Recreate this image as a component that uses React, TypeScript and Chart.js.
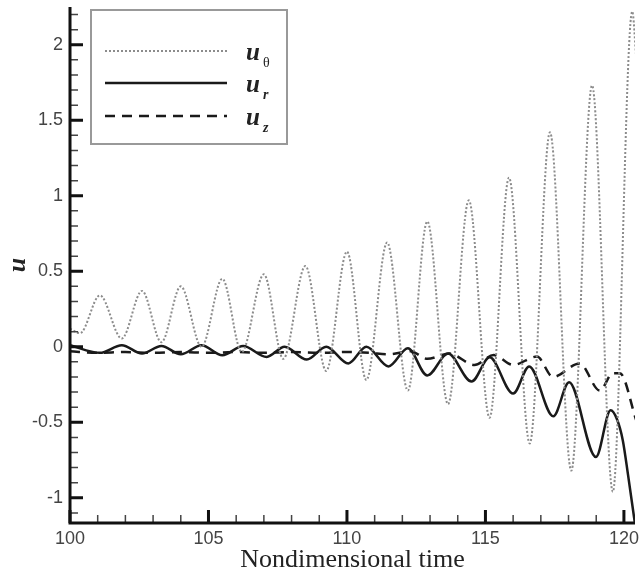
import React, { useEffect, useRef } from "react";
import { Chart, registerables } from "chart.js";

Chart.register(...registerables);

// u_theta (dotted grey)
const thetaT = [100.0, 100.36, 101.08, 101.87, 102.6, 103.3, 104.0, 104.75, 105.5, 106.2, 107.0, 107.7, 108.5, 109.25, 110.0, 110.7, 111.45, 112.2, 112.9, 113.65, 114.4, 115.15, 115.85, 116.6, 117.33, 118.1, 118.85, 119.6, 120.3, 120.45];
const thetaU = [0.12, 0.09, 0.34, 0.055, 0.37, 0.03, 0.4, 0.0, 0.45, -0.035, 0.48, -0.08, 0.535, -0.16, 0.63, -0.22, 0.69, -0.29, 0.83, -0.38, 0.97, -0.47, 1.12, -0.64, 1.42, -0.82, 1.73, -0.96, 2.22, 1.9];

// u_r (solid black)
const rT = [100.0, 101.08, 101.87, 102.6, 103.3, 104.0, 104.75, 105.5, 106.25, 107.1, 107.75, 108.55, 109.25, 110.05, 110.7, 111.5, 112.2, 112.9, 113.65, 114.5, 115.15, 116.0, 116.58, 117.45, 118.02, 118.99, 119.52, 119.75, 119.96, 120.15, 120.42];
const rU = [0.01, -0.04, 0.01, -0.045, 0.005, -0.05, 0.01, -0.056, 0.005, -0.067, 0.0, -0.085, 0.0, -0.11, 0.0, -0.13, -0.01, -0.19, -0.045, -0.23, -0.07, -0.31, -0.13, -0.46, -0.235, -0.73, -0.42, -0.48, -0.62, -0.85, -1.2];

// u_z (dashed black)
const zT = [100.0, 101.0, 102.0, 103.0, 104.0, 105.0, 106.0, 107.0, 108.0, 109.0, 110.0, 110.8, 111.5, 112.3, 112.9, 113.7, 114.6, 115.3, 116.0, 116.86, 117.44, 118.4, 119.13, 119.6, 119.85, 120.45];
const zU = [-0.03, -0.04, -0.035, -0.04, -0.035, -0.04, -0.035, -0.04, -0.035, -0.04, -0.035, -0.04, -0.05, -0.03, -0.08, -0.045, -0.12, -0.055, -0.12, -0.065, -0.2, -0.11, -0.29, -0.175, -0.175, -0.49];

const xTicks = [100, 105, 110, 115, 120];
const yTicks = [-1, -0.5, 0, 0.5, 1, 1.5, 2];
const xLabel = "Nondimensional time";
const yLabel = "u";
const legendBase = "u";
const legendSubs = ["θ", "r", "z"];

const X_MIN = 100;
const X_MAX = 120.4;
const Y_MIN = -1.167;
const Y_MAX = 2.25;

const toXY = (t: number[], u: number[]) => t.map((x, i) => ({ x, y: u[i] }));

const framePlugin = {
  id: "frame",
  afterDatasetsDraw(chart: any) {
    const { ctx, chartArea, scales } = chart;
    const xs = scales.x;
    const ys = scales.y;
    const { left, right, top, bottom } = chartArea;
    ctx.save();
    // minor ticks
    ctx.strokeStyle = "#444";
    ctx.lineWidth = 1.5;
    ctx.beginPath();
    for (let v = Math.ceil(Y_MIN * 10) / 10; v <= Y_MAX + 1e-9; v += 0.1) {
      const r = Math.round(v * 10) / 10;
      if (Math.abs(r * 2 - Math.round(r * 2)) < 1e-6) continue;
      const py = ys.getPixelForValue(r);
      ctx.moveTo(left, py);
      ctx.lineTo(left + 8, py);
    }
    for (let v = 101; v <= X_MAX; v += 1) {
      if (v % 5 === 0) continue;
      const px = xs.getPixelForValue(v);
      ctx.moveTo(px, bottom);
      ctx.lineTo(px, bottom - 8);
    }
    ctx.stroke();
    // major ticks
    ctx.strokeStyle = "#111";
    ctx.lineWidth = 3;
    ctx.beginPath();
    yTicks.forEach((v) => {
      const py = ys.getPixelForValue(v);
      ctx.moveTo(left, py);
      ctx.lineTo(left + 13, py);
    });
    xTicks.forEach((v) => {
      const px = xs.getPixelForValue(v);
      ctx.moveTo(px, bottom);
      ctx.lineTo(px, bottom - 13);
    });
    ctx.stroke();
    // axes
    ctx.lineWidth = 3;
    ctx.beginPath();
    ctx.moveTo(left, top);
    ctx.lineTo(left, bottom);
    ctx.lineTo(right, bottom);
    ctx.stroke();

    // legend
    const bx = 91, by = 10, bw = 196, bh = 134;
    ctx.fillStyle = "#fff";
    ctx.fillRect(bx, by, bw, bh);
    ctx.strokeStyle = "#999";
    ctx.lineWidth = 2;
    ctx.strokeRect(bx, by, bw, bh);
    const rows = [51, 83, 116];
    const ds = chart.data.datasets;
    rows.forEach((ry, i) => {
      const d = ds[i];
      ctx.strokeStyle = d.borderColor;
      ctx.lineWidth = d.borderWidth;
      ctx.setLineDash(d.borderDash || []);
      ctx.beginPath();
      ctx.moveTo(105, ry);
      ctx.lineTo(227, ry);
      ctx.stroke();
      ctx.setLineDash([]);
      ctx.fillStyle = "#222";
      ctx.textAlign = "left";
      ctx.textBaseline = "alphabetic";
      ctx.font = "italic bold 25px 'Liberation Serif'";
      ctx.fillText(legendBase, 246, ry + 9);
      ctx.font = (i === 0 ? "" : "italic bold ") + "14px 'Liberation Serif'";
      ctx.fillText(legendSubs[i], 263, ry + 16);
    });
    ctx.restore();
  },
};

export default function App() {
  const ref = useRef<HTMLCanvasElement | null>(null);
  useEffect(() => {
    if (!ref.current) return;
    const chart = new Chart(ref.current, {
      type: "line",
      data: {
        datasets: [
          {
            label: "u_θ",
            data: toXY(thetaT, thetaU),
            borderColor: "#8c8c8c",
            borderWidth: 2,
            borderDash: [2, 2],
            pointRadius: 0,
            cubicInterpolationMode: "monotone",
          },
          {
            label: "u_r",
            data: toXY(rT, rU),
            borderColor: "#1a1a1a",
            borderWidth: 2.5,
            pointRadius: 0,
            cubicInterpolationMode: "monotone",
          },
          {
            label: "u_z",
            data: toXY(zT, zU),
            borderColor: "#1a1a1a",
            borderWidth: 2.5,
            borderDash: [10, 7],
            pointRadius: 0,
            cubicInterpolationMode: "monotone",
          },
        ],
      },
      options: {
        animation: false,
        responsive: false,
        devicePixelRatio: 1,
        layout: { padding: { left: 0, right: 7, top: 7, bottom: 0 } },
        plugins: { legend: { display: false }, tooltip: { enabled: false } },
        scales: {
          x: {
            type: "linear",
            min: X_MIN,
            max: X_MAX,
            grid: { display: false, drawTicks: false },
            border: { display: false },
            afterBuildTicks: (s: any) => {
              s.ticks = xTicks.map((v) => ({ value: v }));
            },
            afterFit: (s: any) => {
              s.height = 56;
              s.paddingLeft = 0;
              s.paddingRight = 0;
            },
            ticks: {
              autoSkip: false,
              maxRotation: 0,
              padding: 5,
              color: "#444",
              font: { family: "'Liberation Sans'", size: 18 },
              callback: (v: any) => String(v),
            },
            title: {
              display: true,
              text: xLabel,
              color: "#222",
              font: { family: "'Liberation Serif'", size: 26, weight: "normal" },
              padding: { top: 0, bottom: 3 },
            },
          },
          y: {
            type: "linear",
            min: Y_MIN,
            max: Y_MAX,
            grid: { display: false, drawTicks: false },
            border: { display: false },
            afterBuildTicks: (s: any) => {
              s.ticks = yTicks.map((v) => ({ value: v }));
            },
            afterFit: (s: any) => {
              s.width = 70;
              s.paddingTop = 0;
              s.paddingBottom = 0;
            },
            ticks: {
              autoSkip: false,
              padding: 7,
              color: "#444",
              font: { family: "'Liberation Sans'", size: 18 },
              callback: (v: any) => String(v),
            },
            title: {
              display: true,
              text: yLabel,
              color: "#222",
              font: { family: "'Liberation Serif'", size: 26, weight: "bold", style: "italic" },
              padding: { top: 3, bottom: 0 },
            },
          },
        },
      },
      plugins: [framePlugin],
    });
    return () => chart.destroy();
  }, []);
  return (
    <div style={{ position: "absolute", left: 0, top: 0, width: 642, height: 579, background: "#fff" }}>
      <canvas ref={ref} width={642} height={579} />
    </div>
  );
}
